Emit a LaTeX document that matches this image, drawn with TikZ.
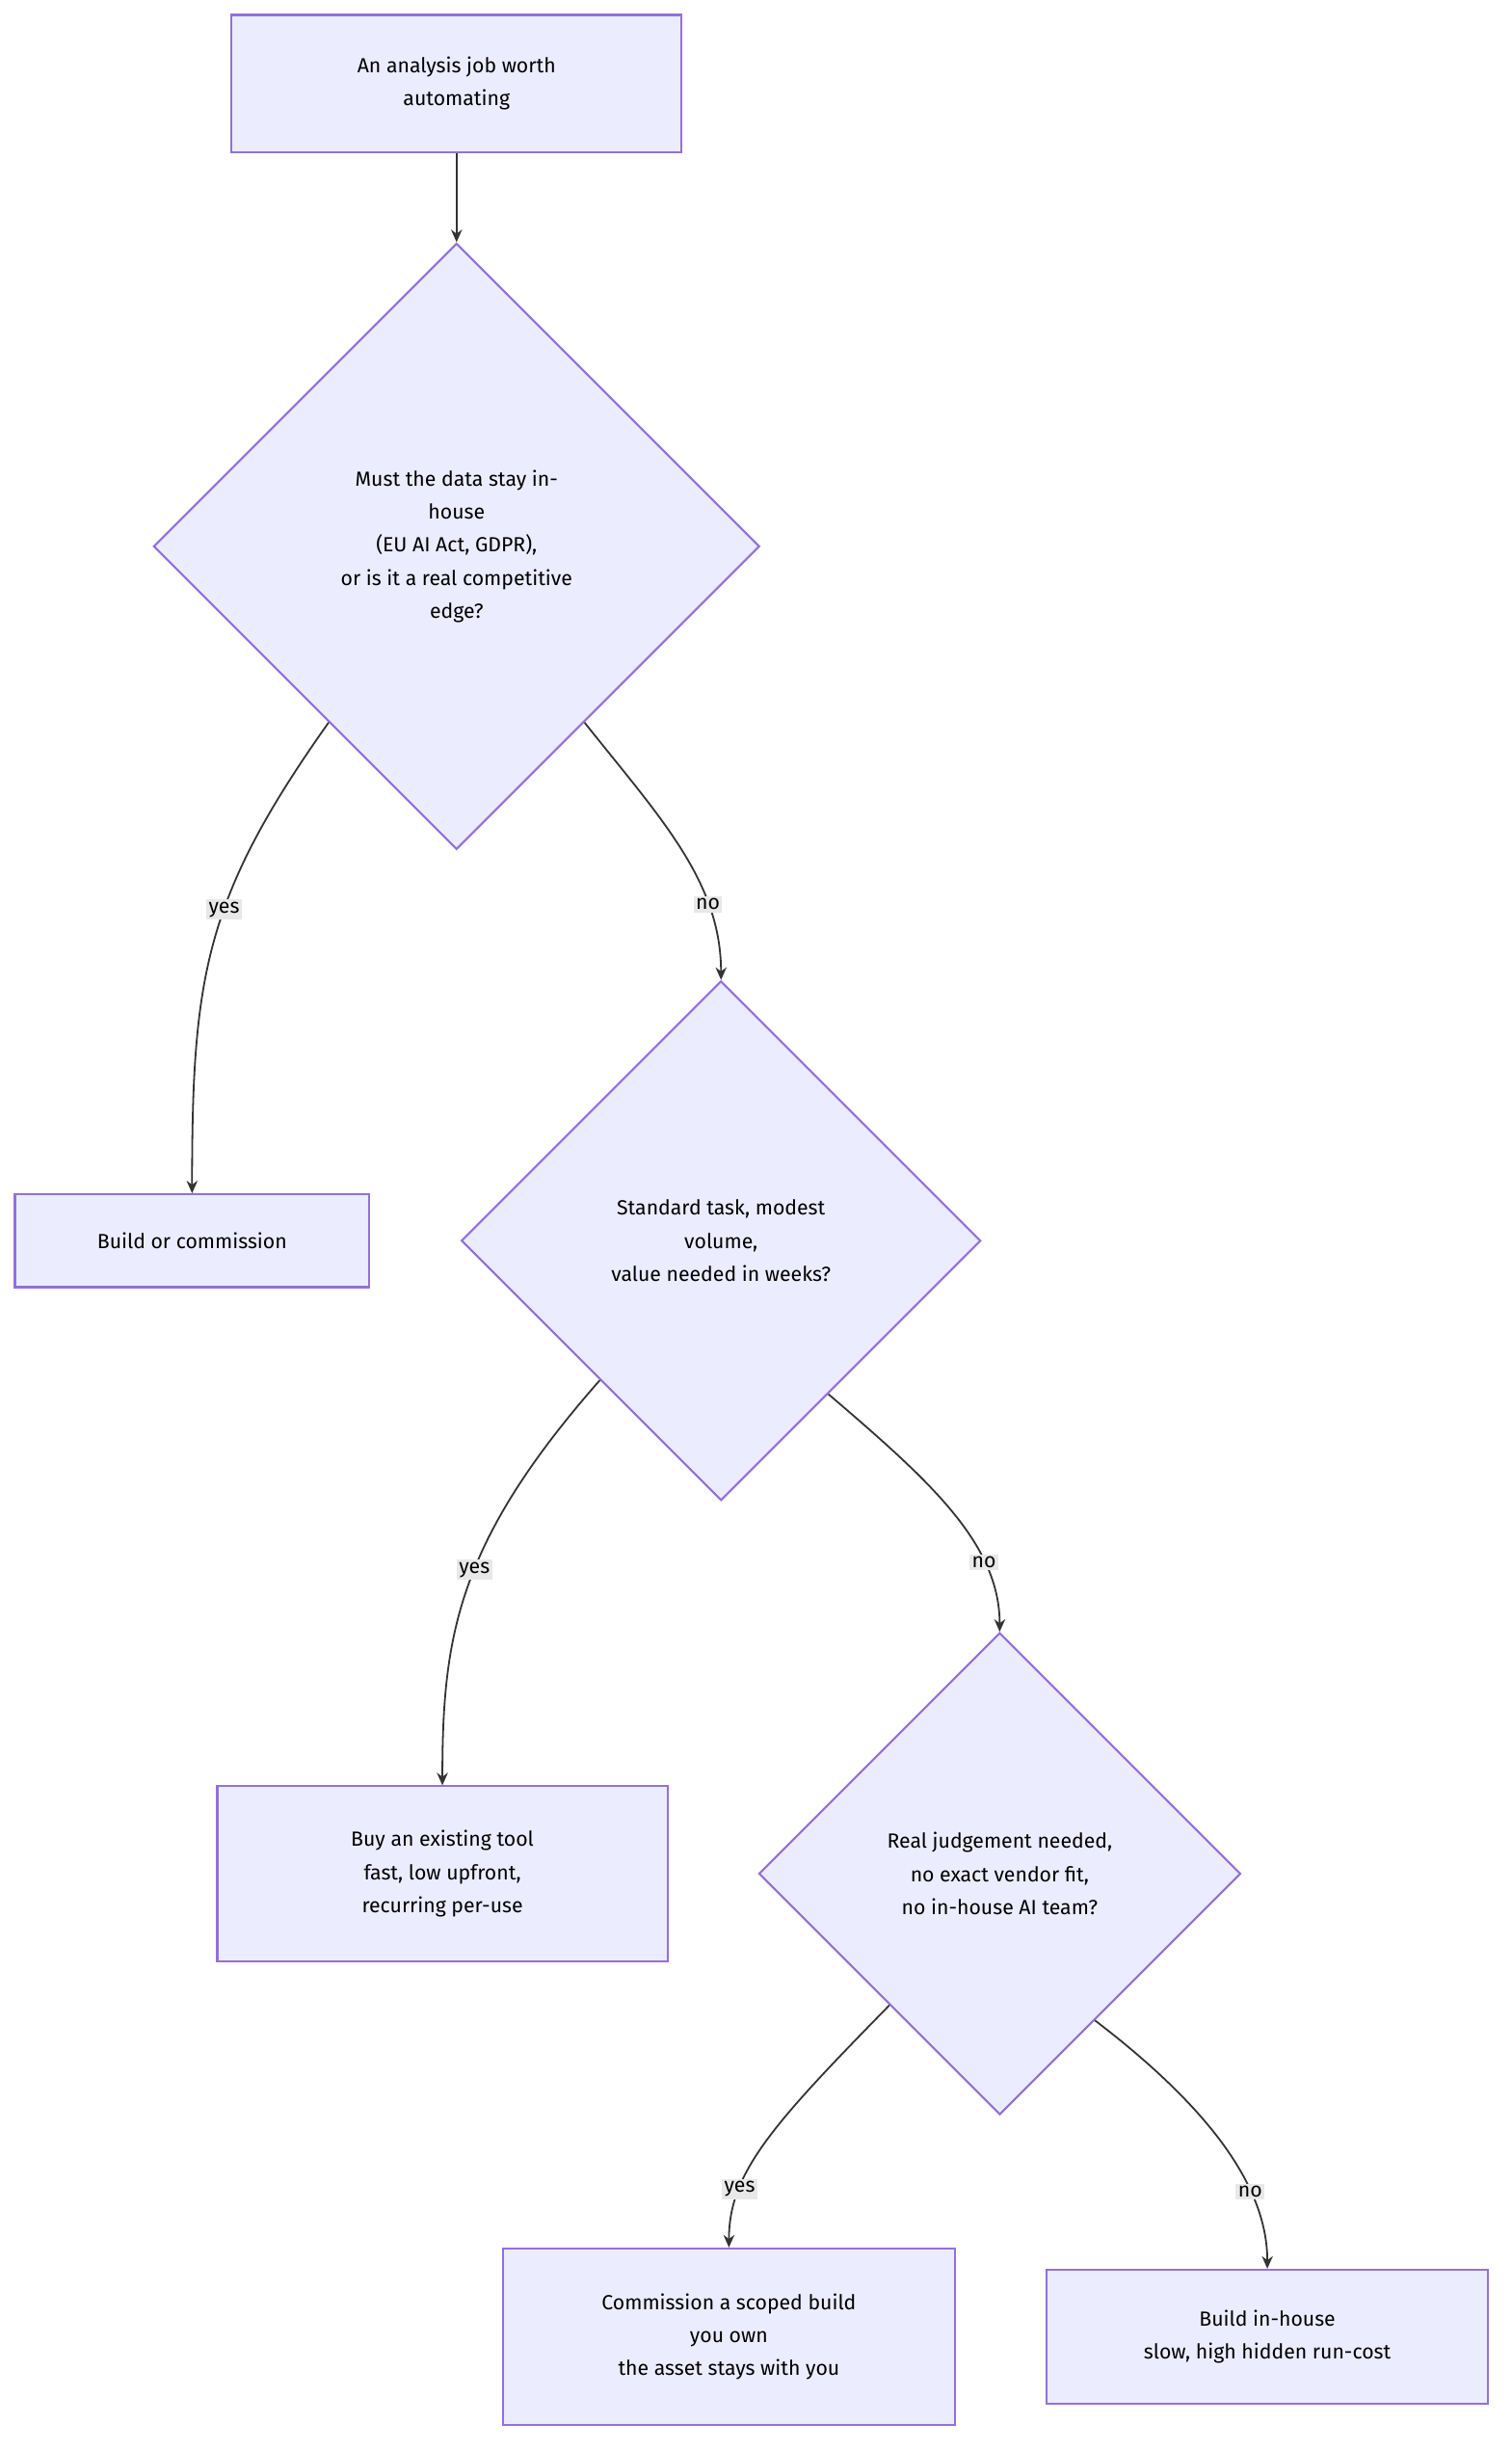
\documentclass[tikz,border=0pt]{standalone}
\usepackage{fontspec}
\setmainfont{Fira Sans}
\usetikzlibrary{shapes.geometric,arrows.meta}
\definecolor{nfill}{HTML}{ECECFF}
\definecolor{nline}{HTML}{9370DB}
\definecolor{lbl}{HTML}{E8E8E8}
\definecolor{edge}{HTML}{333333}
\tikzset{
  box/.style={draw=nline,fill=nfill,line width=1.3pt,align=center,font=\fontsize{13}{21}\selectfont,inner sep=0pt},
  dia/.style={draw=nline,fill=nfill,line width=1.3pt,shape=diamond,align=center,font=\fontsize{13}{21}\selectfont,inner sep=0pt},
  conn/.style={draw=edge,line width=1.1pt,-{Stealth[length=8pt,width=7pt]}},
  elab/.style={fill=lbl,font=\fontsize{13}{15}\selectfont,inner sep=1.5pt,text=black}
}
\begin{document}
\begin{tikzpicture}[x=1pt,y=-1pt]
\useasboundingbox (0,0) rectangle (960,1556);
\node[box,minimum width=286,minimum height=87] (s) at (290,53) {An analysis job worth\\automating};
\node[dia,minimum width=385,minimum height=385] (d1) at (290,347) {Must the data stay in-\\house\\(EU AI Act, GDPR),\\or is it a real competitive\\edge?};
\node[box,minimum width=225,minimum height=59] (b1) at (122,788) {Build or commission};
\node[dia,minimum width=330,minimum height=330] (d2) at (458,788) {Standard task, modest\\volume,\\value needed in weeks?};
\node[box,minimum width=286,minimum height=111] (b2) at (281,1190) {Buy an existing tool\\fast, low upfront,\\recurring per-use};
\node[dia,minimum width=306,minimum height=306] (d3) at (635,1190) {Real judgement needed,\\no exact vendor fit,\\no in-house AI team?};
\node[box,minimum width=287,minimum height=112] (b3) at (463,1484) {Commission a scoped build\\you own\\the asset stays with you};
\node[box,minimum width=280,minimum height=85] (b4) at (805,1484) {Build in-house\\slow, high hidden run-cost};

\draw[conn] (s) -- (d1);
\draw[conn] (d1.-126) .. controls (130,570) and (122,620) .. (b1.north) node[elab,pos=0.42] {yes};
\draw[conn] (d1.-54) .. controls (420,520) and (458,560) .. (d2.north) node[elab,pos=0.72] {no};
\draw[conn] (d2.-131) .. controls (290,980) and (281,1040) .. (b2.north) node[elab,pos=0.45] {yes};
\draw[conn] (d2.-55) .. controls (590,940) and (635,980) .. (d3.north) node[elab,pos=0.72] {no};
\draw[conn] (d3.-130) .. controls (490,1350) and (463,1380) .. (b3.north) node[elab,pos=0.72] {yes};
\draw[conn] (d3.-57) .. controls (770,1340) and (805,1390) .. (b4.north) node[elab,pos=0.68] {no};
\end{tikzpicture}
\end{document}
